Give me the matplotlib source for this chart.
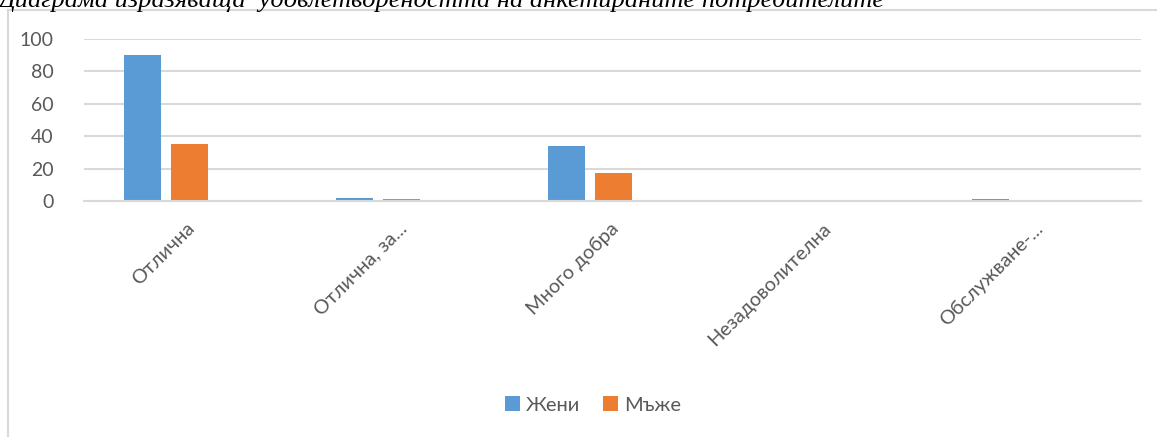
import matplotlib.pyplot as plt
import matplotlib.transforms as mtransforms
from matplotlib.lines import Line2D
import numpy as np

categories = ['Отлична', 'Отлична, за...', 'Много добра', 'Незадоволителна', 'Обслужване-...']
women = [90, 2, 34, 0, 1]
men = [35, 1, 17, 0, 0]
series_names = ['Жени', 'Мъже']
title = 'Диаграма изразяваща  удовлетвореността на анкетираните потребителите'

W, H = 1157, 437
fig = plt.figure(figsize=(W / 100, H / 100), dpi=100)

# plot area in pixels: x 84..1141, y 39..201
ax = fig.add_axes([84 / W, 1 - 201 / H, (1141 - 84) / W, (201 - 39) / H])

x = np.arange(len(categories))
bw = 0.175
off = 0.111
ax.bar(x - off, women, bw, color='#5B9BD5', label=series_names[0], zorder=3)
ax.bar(x + off, men, bw, color='#ED7D31', label=series_names[1], zorder=3)

ax.set_xlim(-0.387, 4.6)
ax.set_ylim(0, 100)
ax.set_yticks([0, 20, 40, 60, 80, 100])
ax.yaxis.grid(True, color='#D9D9D9', lw=1.5, zorder=0)
for s in ['top', 'right', 'left']:
    ax.spines[s].set_visible(False)
ax.spines['bottom'].set_color('#D9D9D9')
ax.spines['bottom'].set_linewidth(1.5)
ax.spines['bottom'].set_zorder(4)
ax.tick_params(length=0, colors='#595959', labelsize=14)
for lbl in ax.get_yticklabels():
    lbl.set_family('Lato')
ax.tick_params(axis='y', pad=22)

ax.set_xticks(x)
ax.set_xticklabels(categories, rotation=45, ha='right', va='top',
                   rotation_mode='anchor', family='Lato', fontsize=14.3, color='#595959')
shift = mtransforms.ScaledTranslation(20 / 100, -14 / 100, fig.dpi_scale_trans)
for lbl in ax.get_xticklabels():
    lbl.set_transform(lbl.get_transform() + shift)

leg = fig.legend(loc='center', bbox_to_anchor=(593 / W, 1 - 405 / H), ncol=2, frameon=False,
                 prop={'family': 'Lato', 'size': 14.5}, handlelength=0.75, handleheight=0.75,
                 handletextpad=0.3, columnspacing=1.1)
for t in leg.get_texts():
    t.set_color('#595959')

# chart frame
fig.add_artist(Line2D([8 / W, 8 / W], [0, 1 - 10 / H], color='#D9D9D9', lw=1.5))
fig.add_artist(Line2D([8 / W, 1], [1 - 10 / H, 1 - 10 / H], color='#D9D9D9', lw=1.5))

fig.text(-2 / W, 1 - 7 / H, title, va='baseline', ha='left', style='italic',
         family='Liberation Serif', fontsize=19, color='black')

fig.savefig('out.png', dpi=100)
